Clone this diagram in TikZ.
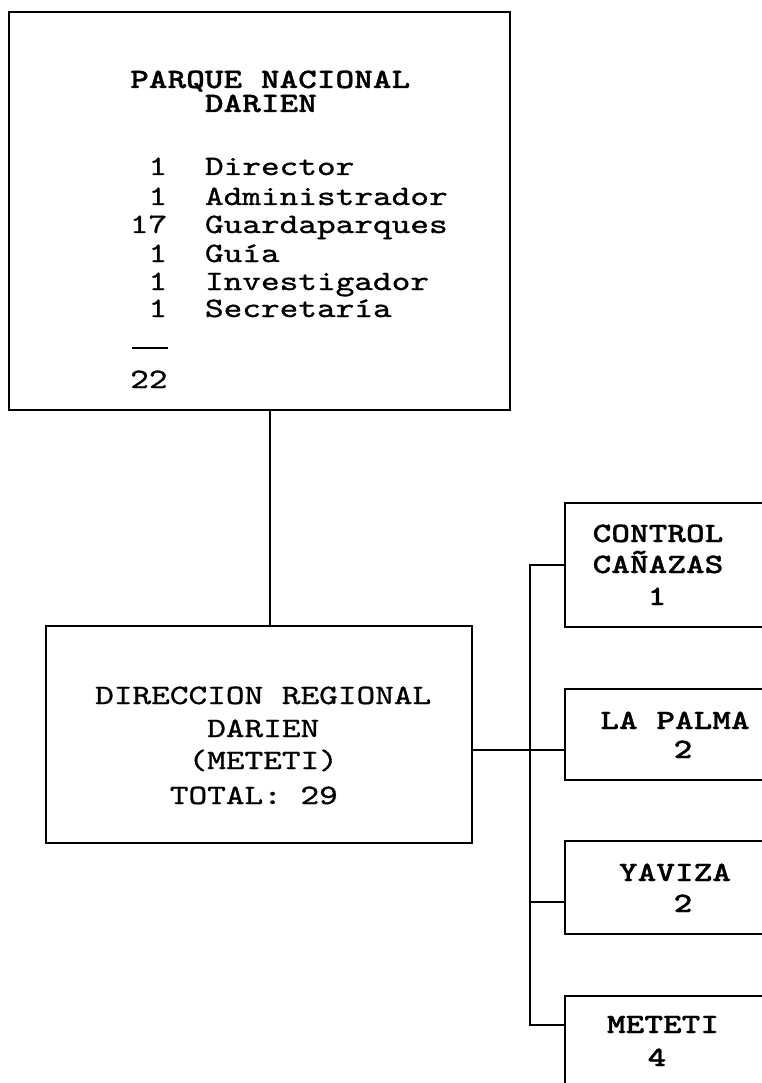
\documentclass[tikz,border=0pt]{standalone}
\usepackage{fontspec}
\newfontfamily\typefont[Extension=.otf, UprightFont=*-regular, BoldFont=lmmonolt10-bold,
    FakeStretch=1.27, FakeBold=1]{lmmono10}

\begin{document}
\begin{tikzpicture}[x=1pt,y=-1pt,
    box/.style={draw, line width=2pt, inner sep=0pt},
    link/.style={line width=1.6pt},
    txt/.style={font=\typefont\fontsize{28}{28}\selectfont, anchor=base west, inner sep=0pt,
        text height=18pt, text depth=3pt},
    head/.style={txt, font=\typefont\bfseries\fontsize{28}{28}\selectfont, anchor=base}]
    \useasboundingbox (0,0) rectangle (761,1083);

    % boxes (the right column runs off the page)
    \node[box, minimum width=501pt, minimum height=398pt] (parque) at (259.5,211) {};
    \node[box, minimum width=426pt, minimum height=217pt] (dir) at (259,734.5) {};
    \node[box, minimum width=225pt, minimum height=124pt] (canazas) at (677.5,565) {};
    \node[box, minimum width=225pt, minimum height=91pt] (palma) at (677.5,734.5) {};
    \node[box, minimum width=225pt, minimum height=93pt] (yaviza) at (677.5,887.5) {};
    \node[box, minimum width=225pt, minimum height=120pt] (meteti) at (677.5,1056) {};

    % parque nacional
    \node[head, anchor=base west] (ptitle) at (130,88) {PARQUE NACIONAL};
    \node[head, anchor=base west] (pname) at (130,112) {\phantom{0000}DARIEN};
    \foreach \n/\role/\yb [count=\i] in {1/Director/175, 1/Administrador/205, 17/Guardaparques/233,
        1/Guía/262, 1/Investigador/290, 1/Secretaría/317}
    {
        \node[txt, anchor=base east] (num\i) at (167.4,\yb) {\n};
        \node[txt] (role\i) at (204.8,\yb) {\role};
    }
    \draw[link] (132,348) -- (168,348);
    \node[txt] (sum) at (130,388) {22};

    % direccion regional
    \node[txt] (d1) at (95,704) {DIRECCION REGIONAL};
    \node[txt] (d2) at (95,737) {\phantom{000000}DARIEN};
    \node[txt] (d3) at (95,769) {\phantom{00000}(METETI)};
    \node[txt] (d4) at (95,804) {\phantom{0000}TOTAL: 29};

    % field posts
    \node[head] (c1) at (658,542) {CONTROL};
    \node[head] (c2) at (658,573) {CAÑAZAS};
    \node[head] (c3) at (657,605) {1};
    \node[head] (l1) at (675,729) {LA PALMA};
    \node[head] (l2) at (683,758) {2};
    \node[head] (y1) at (675,881) {YAVIZA};
    \node[head] (y2) at (683,912) {2};
    \node[head] (m1) at (663,1033) {METETI};
    \node[head] (m2) at (657,1066) {4};

    % connectors
    \coordinate (drop) at (270,0);
    \draw[link] (parque.south -| drop) -- (dir.north -| drop);
    \coordinate (bustop) at (530,565);
    \coordinate (busbot) at (530,1025);
    \draw[link] (canazas.west) -- (bustop) -- (busbot) -- (meteti.west |- busbot);
    \coordinate (j2) at (530,750);
    \draw[link] (dir.east |- j2) -- (palma.west |- j2);
    \coordinate (j3) at (530,902);
    \draw[link] (j3) -- (yaviza.west |- j3);
\end{tikzpicture}
\end{document}
